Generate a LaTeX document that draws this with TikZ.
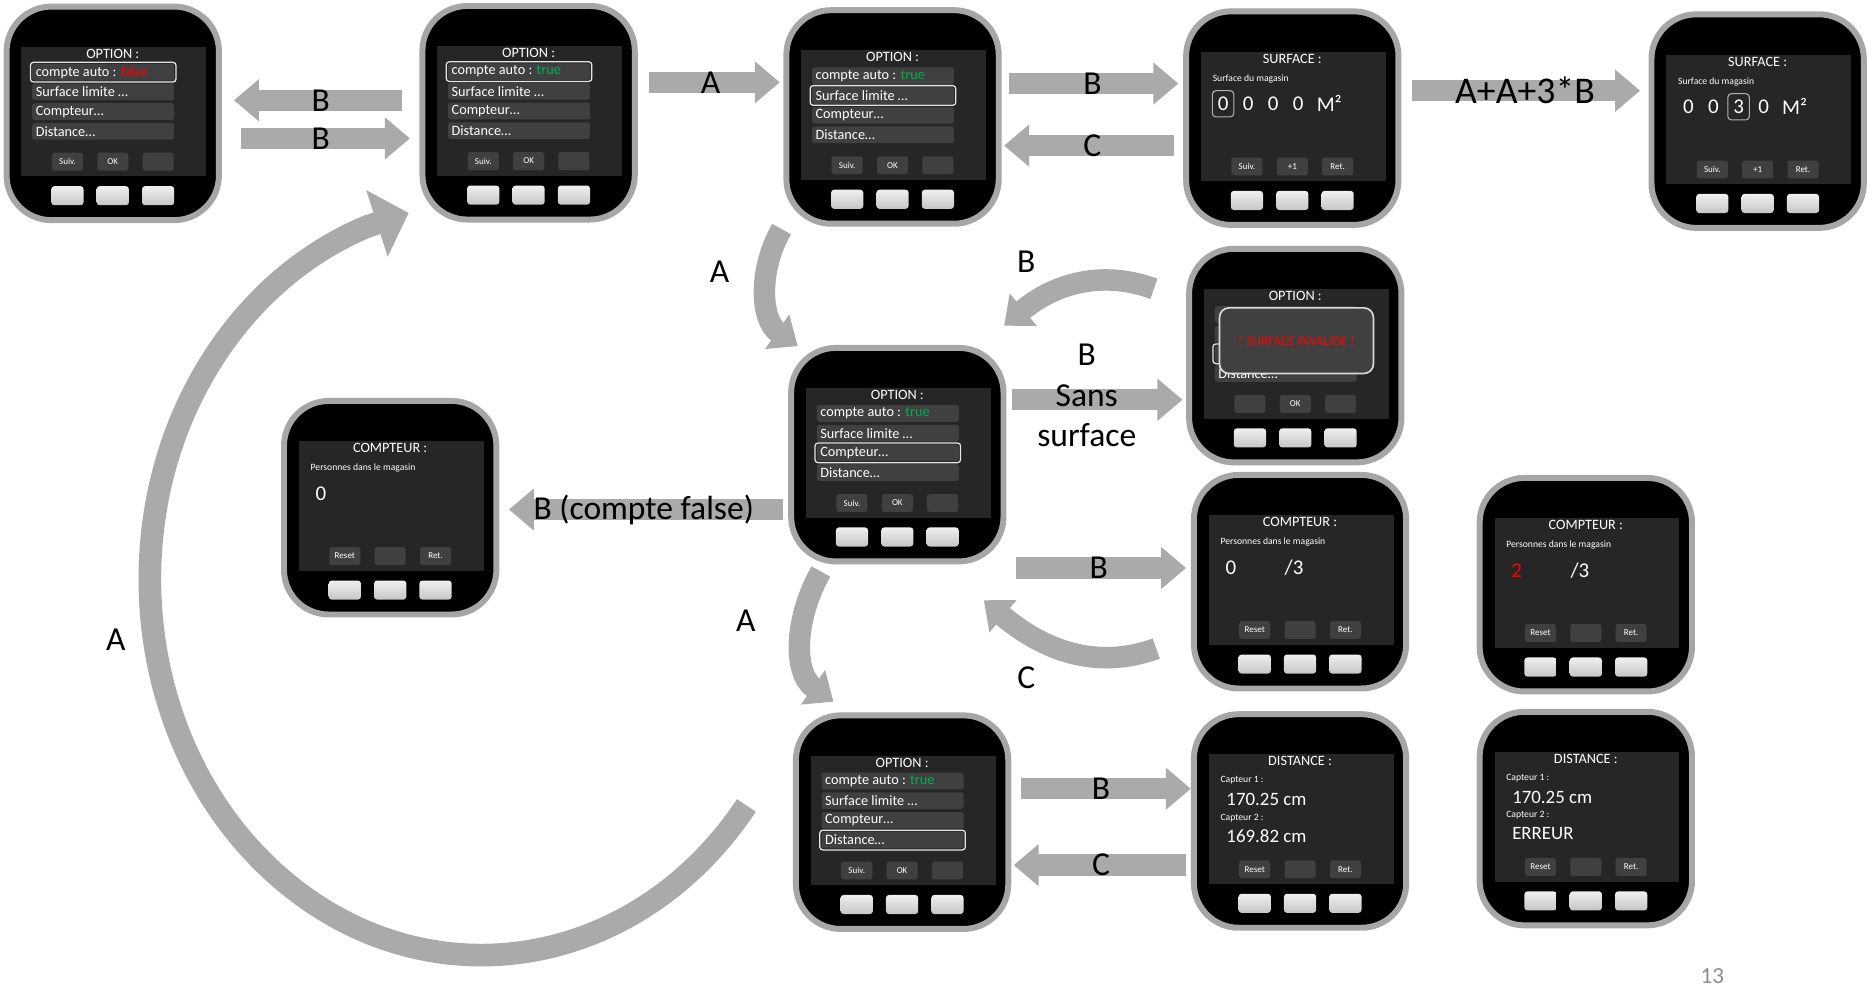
\documentclass[tikz,border=0pt]{standalone}
\usepackage{fontspec}
\setmainfont{Carlito}
\usetikzlibrary{arrows.meta,positioning,calc}

\definecolor{arrowgray}{RGB}{170,170,170}
\definecolor{rimgray}{RGB}{166,166,166}
\definecolor{screengray}{RGB}{38,38,38}
\definecolor{itemgray}{RGB}{64,64,64}
\definecolor{truegreen}{RGB}{0,176,80}
\definecolor{pagegray}{RGB}{140,140,140}

\tikzset{
    %Define standard arrow tip
    >={Triangle[width=0.68cm,length=0.42cm]},
    %Define style for the watch
    body/.style={
           rectangle,
           rounded corners=0.75cm,
           fill=black,
           draw=rimgray, line width=0.1cm,
           minimum width=3.56cm,
           minimum height=3.58cm},
    screen/.style={rectangle, fill=screengray, inner sep=0,
           minimum width=3.1cm, minimum height=2.17cm},
    soft/.style={rectangle, rounded corners=0.04cm, fill=itemgray, inner sep=0,
           minimum width=0.52cm, minimum height=0.3cm,
           text=white, font=\fontsize{4.3}{5}\selectfont},
    hw/.style={rectangle, rounded corners=0.05cm, inner sep=0,
           top color=gray!12, bottom color=gray!45,
           minimum width=0.54cm, minimum height=0.32cm},
    % Define style for screen texts
    scrtitle/.style={text=white, inner sep=0, font=\fontsize{6.8}{8}\selectfont},
    menuitem/.style={rectangle, rounded corners=0.04cm, fill=itemgray,
           text=white, text width=2.26cm, align=flush left,
           inner xsep=0.06cm, inner ysep=0, minimum height=0.28cm,
           font=\fontsize{6.8}{8}\selectfont},
    selbox/.style={rectangle, rounded corners=0.05cm, draw=gray!20, line width=0.6pt,
           minimum width=2.44cm, minimum height=0.33cm},
    smalltxt/.style={text=white, inner sep=0, anchor=west, font=\fontsize{4.6}{5}\selectfont},
    digit/.style={text=white, inner sep=0, font=\fontsize{10}{12}\selectfont},
    digitbox/.style={rectangle, rounded corners=0.06cm, draw=gray!60, line width=0.5pt,
           minimum width=0.36cm, minimum height=0.44cm},
    valtxt/.style={text=white, inner sep=0, anchor=west, font=\fontsize{9}{11}\selectfont},
    popup/.style={rectangle, rounded corners=0.16cm, fill=itemgray,
           draw=gray!30, line width=0.8pt,
           minimum width=2.58cm, minimum height=1.1cm,
           text=red, font=\fontsize{6.3}{7}\selectfont},
    % Define arrow style
    pil/.style={->, line width=0.36cm, draw=arrowgray},
    bigpil/.style={-{Triangle[width=1.14cm,length=0.56cm]}, line width=0.38cm, draw=arrowgray},
    lbl/.style={text=black, inner sep=0, font=\fontsize{16}{19.3}\selectfont},
    pagenum/.style={text=pagegray, font=\fontsize{11}{13}\selectfont}
}

% watch: name, x, y, soft button labels
\newcommand{\watch}[6]{%
  \node[body] (#1) at (#2,#3) {};
  \node[screen] (#1-scr) at ($(#1)+(1,-1.5)$) {};
  \node[soft] (#1-s1) at ($(#1)+(-38,40.5)$) {#4};
  \node[soft] (#1-s2) at ($(#1)+(0,40.5)$) {#5};
  \node[soft] (#1-s3) at ($(#1)+(38,40.5)$) {#6};
  \foreach \i/\dx in {1/-38,2/0,3/38}
    \node[hw] (#1-h\i) at ($(#1)+(\dx,69)$) {};
}
% option menu: name, value, colour, selected item
\newcommand{\optmenu}[4]{%
  \node[scrtitle] (#1-t) at ($(#1)+(0,-50)$) {OPTION :};
  \node[menuitem] (#1-i1) at ($(#1)+(-8,-34.5)$) {compte auto : \textcolor{#3}{#2}};
  \node[menuitem] (#1-i2) at ($(#1)+(-8,-18)$) {Surface limite …};
  \node[menuitem] (#1-i3) at ($(#1)+(-8,-1.5)$) {Compteur…};
  \node[menuitem] (#1-i4) at ($(#1)+(-8,15)$) {Distance…};
  \node[selbox] (#1-sel) at (#1-i#4) {};
}
% surface screen: name, digits, selected digit
\newcommand{\surfscreen}[3]{%
  \node[scrtitle] (#1-t) at ($(#1)+(0,-50)$) {SURFACE :};
  \node[smalltxt] (#1-l) at ($(#1)+(-67,-33)$) {Surface du magasin};
  \foreach \dg [count=\i] in {#2}
    \node[digit] (#1-d\i) at ($(#1)+(-79+21*\i,-12)$) {\dg};
  \node[digit] (#1-u) at ($(#1)+(31,-12)$) {M²};
  \node[digitbox] (#1-box) at (#1-d#3) {};
}
% counter screen: name, value, maximum
\newcommand{\cptscreen}[3]{%
  \node[scrtitle] (#1-t) at ($(#1)+(0,-50)$) {COMPTEUR :};
  \node[smalltxt] (#1-l) at ($(#1)+(-67,-33)$) {Personnes dans le magasin};
  \node[digit] (#1-v) at ($(#1)+(-58,-12)$) {#2};
  \node[digit] (#1-m) at ($(#1)+(-5,-12)$) {#3};
}
% distance screen: name, sensor 1, sensor 2
\newcommand{\distscreen}[3]{%
  \node[scrtitle] (#1-t) at ($(#1)+(0,-50)$) {DISTANCE :};
  \node[smalltxt] (#1-l1) at ($(#1)+(-67,-34)$) {Capteur 1 :};
  \node[valtxt] (#1-v1) at ($(#1)+(-62,-18)$) {#2};
  \node[smalltxt] (#1-l2) at ($(#1)+(-67,-2.5)$) {Capteur 2 :};
  \node[valtxt] (#1-v2) at ($(#1)+(-62,12.5)$) {#3};
}

\begin{document}
\begin{tikzpicture}[x=0.02cm, y=-0.02cm]
 \fill[white] (0,0) rectangle (1568,843);
 \useasboundingbox (0,0) rectangle (1568,843);
 %watches
 \watch{optfalse}{94.5}{95}{Suiv.}{OK}{}
 \optmenu{optfalse}{false}{red}{1}
 \watch{opttrue}{443}{94.5}{Suiv.}{OK}{}
 \optmenu{opttrue}{true}{truegreen}{1}
 \watch{optsurf}{748}{98}{Suiv.}{OK}{}
 \optmenu{optsurf}{true}{truegreen}{2}
 \watch{surf}{1083}{99}{Suiv.}{+1}{Ret.}
 \surfscreen{surf}{0,0,0,0}{1}
 \watch{surfset}{1473}{101.5}{Suiv.}{+1}{Ret.}
 \surfscreen{surfset}{0,0,3,0}{3}
 \watch{invalid}{1085.5}{298}{}{OK}{}
 % menu hidden behind the message
 \node[scrtitle] (invalid-t) at ($(invalid)+(0,-50)$) {OPTION :};
 \foreach \i/\dy in {1/-34.5,2/-18,3/-1.5}
   \node[menuitem] (invalid-i\i) at ($(invalid)+(-8,\dy)$) {};
 \node[menuitem] (invalid-i4) at ($(invalid)+(-8,15)$) {Distance…};
 \node[selbox] (invalid-sel) at (invalid-i3) {};
 \node[popup] (invalid-pop) at ($(invalid)+(1,-12.5)$) {! SURFACE INVALIDE !};
 \watch{optcpt}{752}{381}{Suiv.}{OK}{}
 \optmenu{optcpt}{true}{truegreen}{3}
 \watch{cptoff}{327}{425.5}{Reset}{}{Ret.}
 \cptscreen{cptoff}{0}{}
 \watch{cpt}{1089.5}{487.5}{Reset}{}{Ret.}
 \cptscreen{cpt}{0}{/3}
 \watch{cptfull}{1329}{490}{Reset}{}{Ret.}
 \cptscreen{cptfull}{\textcolor{red}{2}}{/3}
 \watch{optdist}{756}{689}{Suiv.}{OK}{}
 \optmenu{optdist}{true}{truegreen}{4}
 \watch{dist}{1089.5}{688}{Reset}{}{Ret.}
 \distscreen{dist}{170.25 cm}{169.82 cm}
 \watch{disterr}{1329}{686}{Reset}{}{Ret.}
 \distscreen{disterr}{170.25 cm}{ERREUR}

 % straight arrows
 \draw[pil, shorten <=0.3cm, shorten >=0.2cm] (opttrue.west |- 0,84) -- node[lbl] (lb1) {B} (optfalse.east |- 0,84);
 \draw[pil, shorten <=0.32cm, shorten >=0.16cm] (optfalse.east |- 0,116) -- node[lbl] (lb2) {B} (opttrue.west |- 0,116);
 \draw[pil, shorten <=0.18cm, shorten >=0.06cm] (opttrue.east |- 0,69) -- node[lbl] (la1) {A} (optsurf.west |- 0,69);
 \draw[pil, shorten <=0.12cm, shorten >=0.08cm] (optsurf.east |- 0,70) -- node[lbl] (lb3) {B} (surf.west |- 0,70);
 \draw[pil, shorten <=0.16cm, shorten >=0.04cm] (surf.west |- 0,122) -- node[lbl] (lc1) {C} (optsurf.east |- 0,122);
 \draw[pil, shorten <=0.18cm, shorten >=0.14cm] (surf.east |- 0,76) -- node[lbl, font=\fontsize{18}{20}\selectfont] (lsum) {A+A+3*B} (surfset.west |- 0,76);
 \draw[pil, shorten <=0.1cm, shorten >=0.06cm] (optcpt.east |- 0,335) -- node[lbl, align=center, xshift=-0.16cm, yshift=0.07cm] (lsans) {B\\Sans\\surface} (invalid.west |- 0,335);
 \draw[pil, shorten <=0.08cm, shorten >=0.16cm] (optcpt.west |- 0,427) -- node[lbl] (lfalse) {B (compte false)} (cptoff.east |- 0,427);
 \draw[pil, shorten <=0.16cm, shorten >=0.08cm] (optcpt.east |- 0,476) -- node[lbl] (lb4) {B} (cpt.west |- 0,476);
 \draw[pil, shorten <=0.16cm, shorten >=0cm] (optdist.east |- 0,661) -- node[lbl] (lb5) {B} (dist.west |- 0,661);
 \draw[pil, shorten <=0.08cm, shorten >=0.04cm] (dist.west |- 0,725) -- node[lbl] (lc2) {C} (optdist.east |- 0,725);

 % curved arrows
 \draw[pil] ($(optsurf.south)+(-93,2)$) to[out=240, in=145] ($(optcpt.north west)+(8,1)$);
 \node[lbl] (la2) at (603,228) {A};
 \draw[pil] ($(invalid.west)+(-27,-56)$) to[out=160, in=40] ($(optcpt.north east)+(-2,-16)$);
 \node[lbl] (lb6) at (860,219) {B};
 \draw[pil] ($(cpt.west)+(-29,56)$) to[out=200, in=-40] ($(optcpt.south east)+(-19,30)$);
 \node[lbl] (lc3) at (860,568) {C};
 \draw[pil] ($(optcpt.south)+(-64,6)$) to[out=240, in=145] ($(optdist.north west)+(34,-9)$);
 \node[lbl] (la3) at (625,520) {A};

 % big loop back to the start
 \coordinate (loopend) at ($(opttrue.south west)+(-9,-8)$);
 \draw[bigpil] ($(optdist.west)+(-39,-14)$) arc[start angle=-37, end angle=-250, x radius=5.56cm, y radius=6.3cm]
   -- (loopend);
 \node[lbl] (la4) at (97,536) {A};

 \node[pagenum] (page) at (1435,818) {13};
\end{tikzpicture}
\end{document}
